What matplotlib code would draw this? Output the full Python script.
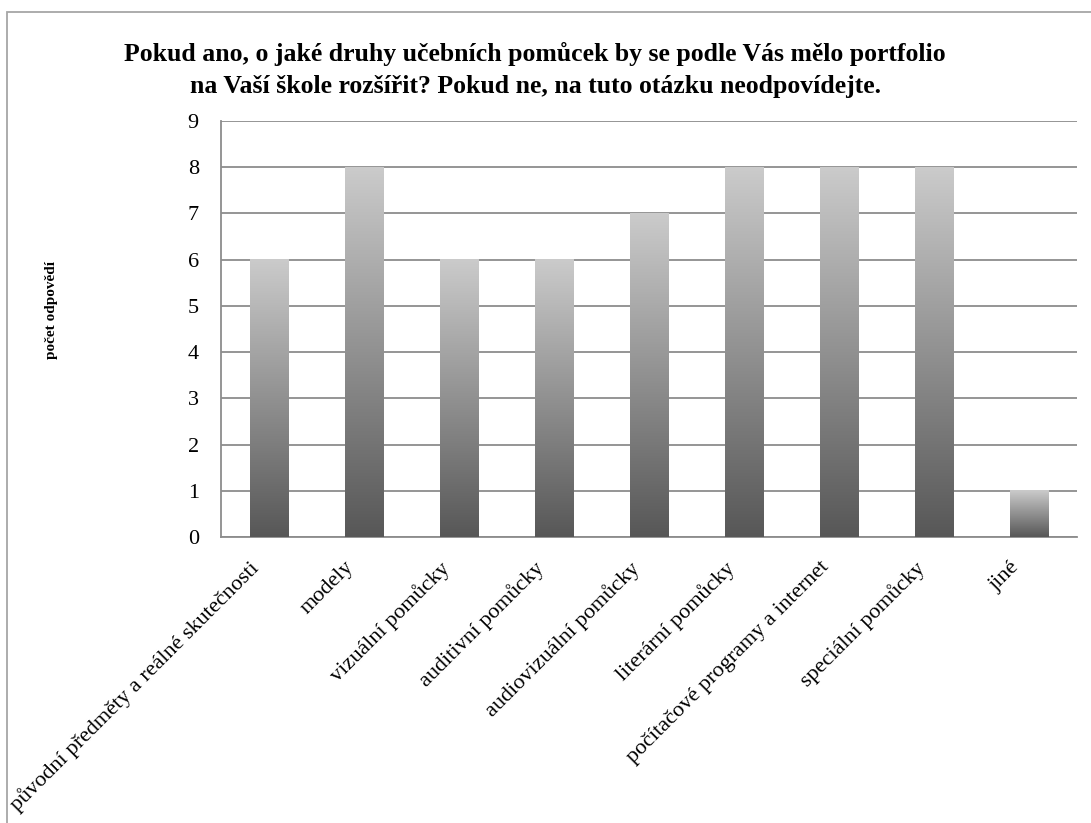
import matplotlib
matplotlib.use("Agg")
import matplotlib.pyplot as plt
import matplotlib.transforms as mtransforms
import numpy as np
from matplotlib.patches import Rectangle
from matplotlib.colors import LinearSegmentedColormap

categories = ["původní předměty a reálné skutečnosti", "modely", "vizuální pomůcky",
              "auditivní pomůcky", "audiovizuální pomůcky", "literární pomůcky",
              "počítačové programy a internet", "speciální pomůcky", "jiné"]
values = [6, 8, 6, 6, 7, 8, 8, 8, 1]
yticks = list(range(0, 10))
title = ("Pokud ano, o jaké druhy učebních pomůcek by se podle Vás mělo portfolio\n"
         "na Vaší škole rozšířit? Pokud ne, na tuto otázku neodpovídejte.")
ylabel = "počet odpovědí"

plt.rcParams['font.family'] = ['Liberation Serif', 'DejaVu Serif']

W, H = 1091, 823
fig = plt.figure(figsize=(W / 100, H / 100), dpi=100)
# outer border
fig.add_artist(Rectangle((7 / W, -0.1), 1.2, 1 - 12 / H + 0.1, transform=fig.transFigure,
                         fill=False, edgecolor="#a6a6a6", linewidth=1.3))

left, right, top, bottom = 221, 1077, 121, 537
ax = fig.add_axes([left / W, 1 - bottom / H, (right - left) / W, (bottom - top) / H])

n = len(categories)
x = np.arange(n)
width = 0.4

cmap = LinearSegmentedColormap.from_list("g", ["#575757", "#cbcbcb"])
grad = np.linspace(0, 1, 256).reshape(-1, 1)
bars = ax.bar(x, values, width=width, color="none", edgecolor="none", zorder=3)
for b in bars:
    x0 = b.get_x()
    h = b.get_height()
    ax.imshow(grad, cmap=cmap, origin="lower", aspect="auto",
              extent=[x0, x0 + b.get_width(), 0, h], zorder=3, interpolation="bicubic")
ax.set_xlim(-0.5, n - 0.5)
ax.set_ylim(0, 9)

ax.set_yticks(yticks)
ax.set_yticklabels([str(t) for t in yticks], fontsize=16)
ax.yaxis.grid(True, color="#8c8c8c", linewidth=1.3, zorder=0)
ax.set_axisbelow(True)
for s in ["top", "right"]:
    ax.spines[s].set_visible(False)
for s in ["left", "bottom"]:
    ax.spines[s].set_color("#8c8c8c")
    ax.spines[s].set_linewidth(1.3)
ax.tick_params(axis="y", length=0, pad=16)
ax.tick_params(axis="x", length=0, pad=15)

ax.set_xticks(x)
ax.set_xticklabels(categories, rotation=45, ha="right", va="top",
                   rotation_mode="anchor", fontsize=16)
offset = mtransforms.ScaledTranslation(-20 / 100, 0, fig.dpi_scale_trans)
for lab in ax.get_xticklabels():
    lab.set_transform(lab.get_transform() + offset)

fig.text(52 / W, 1 - 310 / H, ylabel, rotation=90, ha="center", va="center",
         fontsize=11, fontweight="bold")
fig.text(0.5 * (130 + 940) / W, 1 - 70 / H, title, ha="center", va="center",
         fontsize=18.5, fontweight="bold", linespacing=1.5)

fig.savefig("out.png", dpi=100)
